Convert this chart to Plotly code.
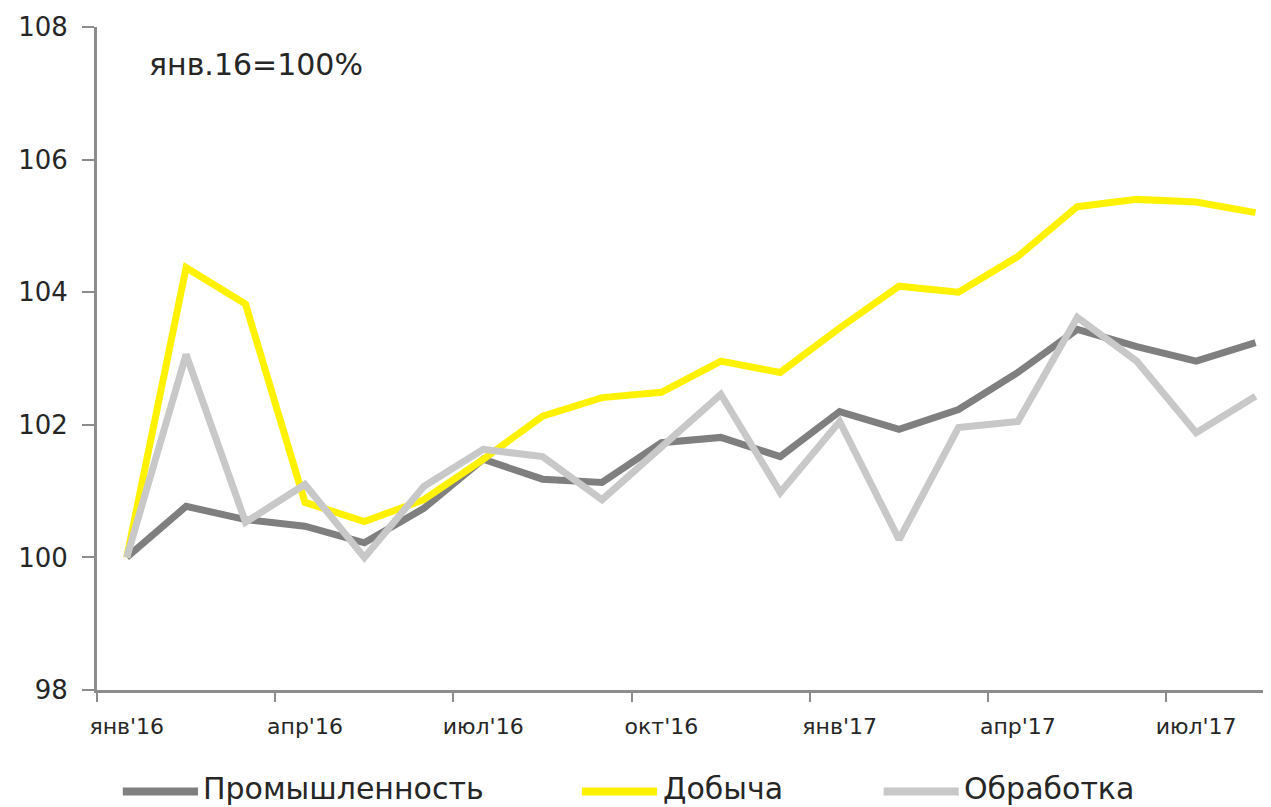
import plotly.graph_objects as go

# Месяцы (янв'16 .. авг'17)
MONTHS = [
    "янв'16", "фев'16", "мар'16", "апр'16", "май'16", "июн'16",
    "июл'16", "авг'16", "сен'16", "окт'16", "ноя'16", "дек'16",
    "янв'17", "фев'17", "мар'17", "апр'17", "май'17", "июн'17",
    "июл'17", "авг'17",
]

# янв.16 = 100%
PROM = [100.0, 100.77, 100.57, 100.47, 100.22, 100.74, 101.48, 101.18, 101.13, 101.73,
        101.81, 101.52, 102.2, 101.93, 102.23, 102.79, 103.44, 103.18, 102.96, 103.24]
DOB = [100.0, 104.37, 103.82, 100.83, 100.54, 100.87, 101.48, 102.13, 102.41, 102.49,
       102.96, 102.79, 103.46, 104.09, 104.0, 104.54, 105.29, 105.4, 105.36, 105.2]
OBR = [100.0, 103.06, 100.53, 101.1, 100.0, 101.07, 101.63, 101.52, 100.87, 101.67,
       102.46, 100.98, 102.05, 100.27, 101.96, 102.05, 103.62, 102.96, 101.88, 102.43]

TICK_LABELS = MONTHS[::3]

COLORS = {
    "prom": "#7f7f7f",
    "dob": "#fff200",
    "obr": "#c8c8c8",
    "axis": "#8c8c8c",
    "text": "#262626",
}

FONT = "DejaVu Sans"

SERIES = [
    ("Промышленность", PROM, COLORS["prom"]),
    ("Добыча", DOB, COLORS["dob"]),
    ("Обработка", OBR, COLORS["obr"]),
]

# легенда внизу: начало образца линии (доля ширины области графика)
LEGEND_X = [0.022, 0.413, 0.670]
LEGEND_Y = -0.153
SAMPLE_LEN = 0.064

x = list(range(len(MONTHS)))

fig = go.Figure()

shapes = []
annotations = []
for (name, values, color), lx in zip(SERIES, LEGEND_X):
    fig.add_trace(go.Scatter(
        x=x, y=values, name=name, mode="lines",
        line=dict(color=color, width=7),
        showlegend=False,
    ))
    # образец линии для легенды
    shapes.append(dict(
        type="line", xref="paper", yref="paper",
        x0=lx, x1=lx + SAMPLE_LEN, y0=LEGEND_Y, y1=LEGEND_Y,
        line=dict(color=color, width=8),
    ))
    annotations.append(dict(
        text=name, xref="paper", yref="paper",
        x=lx + SAMPLE_LEN + 0.003, y=LEGEND_Y + 0.004,
        xanchor="left", yanchor="middle", showarrow=False,
        font=dict(family=FONT, size=30, color=COLORS["text"]),
    ))

annotations.append(dict(
    text="янв.16=100%",
    xref="paper", yref="paper",
    x=0.043, y=0.943,
    xanchor="left", yanchor="middle",
    showarrow=False,
    font=dict(family=FONT, size=30, color=COLORS["text"]),
))

fig.update_layout(
    width=1263,
    height=799,
    paper_bgcolor="white",
    plot_bgcolor="white",
    font=dict(family=FONT, color=COLORS["text"]),
    margin=dict(l=89, r=0, t=19, b=117),
    showlegend=False,
    shapes=shapes,
    annotations=annotations,
)

fig.update_xaxes(
    range=[-0.5, 19.26],
    tickmode="array",
    tickvals=x[::3],
    ticktext=TICK_LABELS,
    ticks="",
    ticklabelstandoff=15,
    tickfont=dict(family=FONT, size=22, color=COLORS["text"]),
    showgrid=False,
    zeroline=False,
    showline=True,
    linecolor=COLORS["axis"],
    linewidth=3,
    minor=dict(tick0=-0.5, dtick=3, ticks="outside", ticklen=9,
               tickcolor=COLORS["axis"], tickwidth=2, showgrid=False),
)

fig.update_yaxes(
    range=[98, 108],
    dtick=2,
    ticks="outside",
    ticklen=12,
    tickwidth=2,
    tickcolor=COLORS["axis"],
    ticklabelstandoff=9,
    tickfont=dict(family=FONT, size=26, color=COLORS["text"]),
    showgrid=False,
    zeroline=False,
    showline=True,
    linecolor=COLORS["axis"],
    linewidth=3,
)

fig.write_html("out.html")
